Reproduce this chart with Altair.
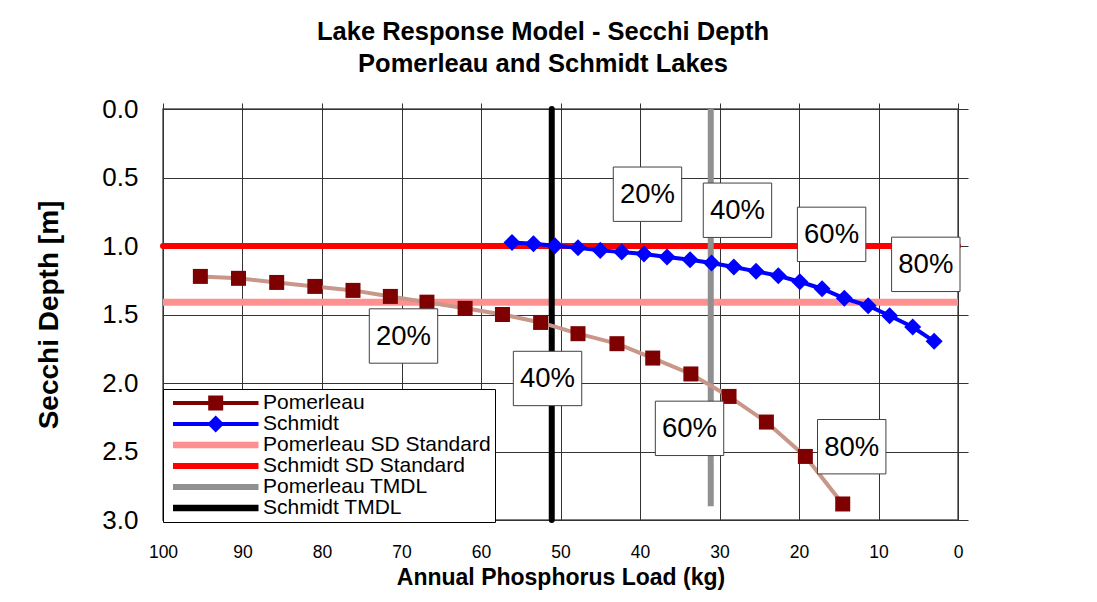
import altair as alt
import pandas as pd

FONT = "Liberation Sans"

# ---------------- data ----------------
pom_load = [95.3, 90.5, 85.7, 80.9, 76.1, 71.4, 66.8, 62.0, 57.3, 52.5,
            47.8, 42.9, 38.4, 33.6, 28.8, 24.1, 19.2, 14.5]
pom_depth = [1.222, 1.236, 1.266, 1.295, 1.324, 1.368, 1.410, 1.455, 1.500, 1.558,
             1.640, 1.713, 1.818, 1.934, 2.098, 2.285, 2.536, 2.883]

sch_load = [56.1, 53.4, 50.7, 47.8, 45.0, 42.3, 39.5, 36.6, 33.7, 31.0,
            28.2, 25.4, 22.6, 19.9, 17.1, 14.3, 11.3, 8.6, 5.7, 3.0]
sch_depth = [0.974, 0.983, 0.998, 1.012, 1.032, 1.044, 1.058, 1.080, 1.100, 1.124,
             1.153, 1.185, 1.217, 1.261, 1.312, 1.382, 1.436, 1.509, 1.591, 1.696]

pct_labels = ["20%", "40%", "60%", "80%"]
pom_lbl_load = [69.75, 51.63, 33.77, 13.37]
pom_lbl_depth = [1.657, 1.967, 2.331, 2.465]
sch_lbl_load = [39.06, 27.74, 15.90, 4.05]
sch_lbl_depth = [0.622, 0.739, 0.915, 1.134]

sd_names = ["Pomerleau SD Standard", "Schmidt SD Standard"]
sd_depth = [1.41, 1.00]

tmdl_names = ["Pomerleau TMDL", "Schmidt TMDL"]
tmdl_load = [31.1, 51.1]
tmdl_top = [0.0, 0.0]
tmdl_bottom = [2.9, 3.0]

x_ticks = [100, 90, 80, 70, 60, 50, 40, 30, 20, 10, 0]
y_ticks = [0.0, 0.5, 1.0, 1.5, 2.0, 2.5, 3.0]

legend_names = ["Pomerleau", "Schmidt", "Pomerleau SD Standard",
                "Schmidt SD Standard", "Pomerleau TMDL", "Schmidt TMDL"]
legend_colors = ["#7F0000", "#0000FF", "#FF9090", "#FF0000", "#909090", "#000000"]
POM_LINE = "#C9968A"

# legend symbol shapes (line swatch, with marker where the series has one)
legend_paths = [
    "M-0.45,-0.2H8.1V0.2H-0.45Z M3.07,-0.75H4.57V0.75H3.07Z",
    "M-0.45,-0.2H8.1V0.2H-0.45Z M3.82,-0.85L4.67,0L3.82,0.85L2.97,0Z",
    "M-0.45,-0.32H8.1V0.32H-0.45Z",
    "M-0.45,-0.3H8.1V0.3H-0.45Z",
    "M-0.45,-0.3H8.1V0.3H-0.45Z",
    "M-0.45,-0.33H8.1V0.33H-0.45Z",
]

pom_df = pd.DataFrame({"load": pom_load, "depth": pom_depth})
sch_df = pd.DataFrame({"load": sch_load, "depth": sch_depth})
lbl_df = pd.DataFrame({
    "load": pom_lbl_load + sch_lbl_load,
    "depth": pom_lbl_depth + sch_lbl_depth,
    "label": pct_labels + pct_labels,
})
pink_df = pd.DataFrame({"series": [sd_names[0]], "depth": [sd_depth[0]]})
red_df = pd.DataFrame({"series": [sd_names[1]], "depth": [sd_depth[1]]})
gray_df = pd.DataFrame({"series": [tmdl_names[0]], "load": [tmdl_load[0]],
                        "top": [tmdl_top[0]], "bottom": [tmdl_bottom[0]]})
black_df = pd.DataFrame({"series": [tmdl_names[1]], "load": [tmdl_load[1]],
                         "top": [tmdl_top[1]], "bottom": [tmdl_bottom[1]]})
leg_df = pd.DataFrame({"series": legend_names})

x_scale = alt.Scale(domain=[0, 100], reverse=True, nice=False, zero=False)
y_scale = alt.Scale(domain=[0, 3], reverse=True, nice=False, zero=False)

main_x_axis = alt.Axis(
    orient="bottom", values=x_ticks, format="d", labelFont=FONT, labelFontSize=17.5,
    labelColor="black", labelPadding=23, ticks=False, tickSize=0, domain=False,
    grid=True, gridColor="#333333", gridWidth=1, labelFlush=False, labelOverlap=False,
    title="Annual Phosphorus Load (kg)", titleFont=FONT, titleFontSize=23,
    titleFontWeight="bold", titleColor="black", titlePadding=6,
)
main_y_axis = alt.Axis(
    orient="left", values=y_ticks, format=".1f", labelFont=FONT, labelFontSize=26,
    labelColor="black", labelPadding=25, ticks=False, tickSize=0, domain=False,
    grid=True, gridColor="#333333", gridWidth=1, labelFlush=False, labelOverlap=False,
    title="Secchi Depth [m]", titleFont=FONT, titleFontSize=28,
    titleFontWeight="bold", titleColor="black", titlePadding=38,
)
top_axis = alt.Axis(orient="top", values=x_ticks, labels=False, ticks=True, tickSize=6,
                    tickColor="#333333", domain=False, grid=False, title="")
right_axis = alt.Axis(orient="right", values=y_ticks, labels=False, ticks=True, tickSize=10,
                      tickColor="#333333", domain=False, grid=False, title="")

pink_rule = alt.Chart(pink_df).mark_rule(color=legend_colors[2], strokeWidth=7).encode(
    y=alt.Y("depth:Q", scale=y_scale, axis=None))
red_rule = alt.Chart(red_df).mark_rule(color=legend_colors[3], strokeWidth=6, strokeCap="round").encode(
    y=alt.Y("depth:Q", scale=y_scale, axis=right_axis))
gray_rule = alt.Chart(gray_df).mark_rule(color=legend_colors[4], strokeWidth=6).encode(
    x=alt.X("load:Q", scale=x_scale, axis=None),
    y=alt.Y("top:Q", scale=y_scale, axis=None), y2="bottom:Q")
black_rule = alt.Chart(black_df).mark_rule(color=legend_colors[5], strokeWidth=6, strokeCap="round").encode(
    x=alt.X("load:Q", scale=x_scale, axis=top_axis),
    y=alt.Y("top:Q", scale=y_scale, axis=None), y2="bottom:Q")

pom_line = alt.Chart(pom_df).mark_line(color=POM_LINE, strokeWidth=4).encode(
    x=alt.X("load:Q", scale=x_scale, axis=main_x_axis),
    y=alt.Y("depth:Q", scale=y_scale, axis=main_y_axis))
pom_pts = alt.Chart(pom_df).mark_point(shape="square", filled=True, size=225, opacity=1,
                                       color=legend_colors[0]).encode(
    x=alt.X("load:Q", scale=x_scale, axis=None),
    y=alt.Y("depth:Q", scale=y_scale, axis=None))
sch_line = alt.Chart(sch_df).mark_line(color=legend_colors[1], strokeWidth=4).encode(
    x=alt.X("load:Q", scale=x_scale, axis=None),
    y=alt.Y("depth:Q", scale=y_scale, axis=None))
sch_pts = alt.Chart(sch_df).mark_point(shape="diamond", filled=True, size=290, opacity=1,
                                       color=legend_colors[1]).encode(
    x=alt.X("load:Q", scale=x_scale, axis=None),
    y=alt.Y("depth:Q", scale=y_scale, axis=None))

boxes = alt.Chart(lbl_df).mark_point(
    shape="M-1,-0.795H1V0.795H-1Z", size=4679, filled=True, fill="white",
    stroke="#404040", strokeWidth=1, opacity=1).encode(
    x=alt.X("load:Q", scale=x_scale, axis=None),
    y=alt.Y("depth:Q", scale=y_scale, axis=None))
texts = alt.Chart(lbl_df).mark_text(font=FONT, fontSize=27.5, color="black",
                                    align="center", baseline="middle", dy=1).encode(
    x=alt.X("load:Q", scale=x_scale, axis=None),
    y=alt.Y("depth:Q", scale=y_scale, axis=None),
    text="label:N")

leg = alt.Legend(
    title=None, orient="none", legendX=0, legendY=280, direction="vertical",
    fillColor="white", strokeColor="black", padding=4,
    labelFont=FONT, labelFontSize=21, labelColor="black", labelLimit=400, labelOffset=75,
    symbolSize=400, symbolStrokeWidth=0, symbolOffset=0, symbolOpacity=1,
    rowPadding=0, clipHeight=20,
)
legend_layer = alt.Chart(leg_df).transform_filter("false").mark_point(filled=True, opacity=1).encode(
    color=alt.Color("series:N", scale=alt.Scale(domain=legend_names, range=legend_colors), legend=leg),
    shape=alt.Shape("series:N", scale=alt.Scale(domain=legend_names, range=legend_paths), legend=leg),
)

chart = alt.layer(
    pink_rule, red_rule, gray_rule, black_rule,
    pom_line, pom_pts, sch_line, sch_pts,
    boxes, texts, legend_layer,
).resolve_axis(x="independent", y="independent").properties(
    width=795, height=411,
    autosize=alt.AutoSizeParams(type="none"),
    padding={"left": 155, "top": 101, "right": 131, "bottom": 74},
    background="white",
    title=alt.TitleParams(
        text=["Lake Response Model - Secchi Depth", "Pomerleau and Schmidt Lakes"],
        font=FONT, fontSize=25.5, fontWeight="bold", color="black",
        anchor="middle", dx=-17.5, offset=18, lineHeight=32.6),
).configure_view(fill="#FFFFCC", stroke="#555555", strokeWidth=1.5)

chart.save("out.html", embed_options={"renderer": "svg", "actions": False})
